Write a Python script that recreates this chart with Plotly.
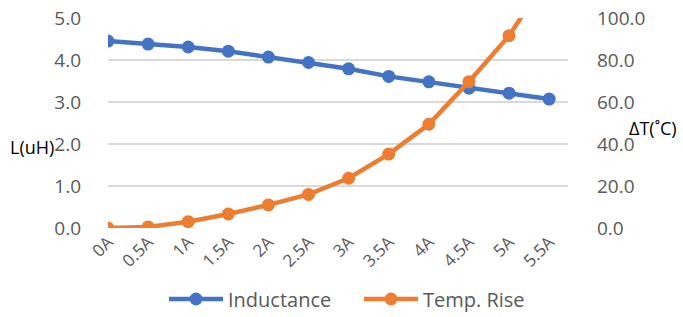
import plotly.graph_objects as go

currents = ["0A", "0.5A", "1A", "1.5A", "2A", "2.5A", "3A", "3.5A", "4A", "4.5A", "5A", "5.5A"]
inductance = [4.45, 4.38, 4.31, 4.21, 4.07, 3.94, 3.79, 3.61, 3.48, 3.33, 3.21, 3.07]
temp_rise = [0.0, 0.5, 3.0, 6.7, 11.0, 16.0, 23.7, 35.2, 49.4, 69.7, 91.6, 120.5]
left_ticks = [0, 1, 2, 3, 4, 5]
right_ticks = [0, 20, 40, 60, 80, 100]

xs = list(range(len(currents)))
FONT = "Open Sans"
GRAY = "#595959"
OFF = 0  # body margin removed via post_script
W, H = 683 - OFF, 317 - OFF
L, T = 108 - OFF, 18 - OFF
PW, PH = 460, 210
R, B = W - L - PW, H - T - PH

fig = go.Figure()
fig.add_trace(go.Scatter(x=xs, y=inductance, name="Inductance", mode="lines+markers",
                         line=dict(color="#4472C4", width=4.5),
                         marker=dict(size=13, color="#4472C4")))
fig.add_trace(go.Scatter(x=xs, y=temp_rise, name="Temp. Rise", mode="lines+markers", yaxis="y2",
                         line=dict(color="#ED7D31", width=4.5),
                         marker=dict(size=13, color="#ED7D31")))

def px_to_paper(px, py):
    # px, py are page pixel coordinates
    return (px - OFF - L) / PW, (T + PH - (py - OFF)) / PH

ax, ay = px_to_paper(32, 147)
bx, by = px_to_paper(627, 128)

fig.update_layout(
    width=W, height=H,
    margin=dict(l=L, r=R, t=T, b=B, autoexpand=False),
    plot_bgcolor="white", paper_bgcolor="white",
    font=dict(family=FONT, color=GRAY),
    showlegend=True,
    legend=dict(orientation="h", xref="container", yref="container",
                x=(164 - OFF) / W, xanchor="left", y=1 - (299 - OFF) / H, yanchor="middle",
                font=dict(size=20, color=GRAY), itemwidth=54, tracegroupgap=0,
                entrywidth=126, entrywidthmode="pixels"),
    xaxis=dict(range=[0, 11.47], tickvals=xs, ticktext=currents, tickangle=-45,
               showgrid=False, zeroline=False, showline=False, ticks="", automargin=False,
               tickfont=dict(size=17, color=GRAY)),
    yaxis=dict(range=[0, 5], tickvals=left_ticks, ticktext=[f"{v:.1f}" for v in left_ticks],
               showgrid=True, gridcolor="#d9d9d9", gridwidth=1.5, zeroline=False, automargin=False,
               showline=False, ticks="", tickfont=dict(size=19, color=GRAY), ticklabelstandoff=26,
               ticklabeloverflow="allow"),
    yaxis2=dict(range=[0, 100], overlaying="y", side="right", tickvals=right_ticks, automargin=False,
                ticktext=[f"{v:.1f}" for v in right_ticks], showgrid=False, zeroline=False,
                showline=False, ticks="", tickfont=dict(size=19, color=GRAY), ticklabelstandoff=28,
                ticklabeloverflow="allow"),
    annotations=[
        dict(text="L(uH)", x=ax, y=ay, xref="paper", yref="paper", showarrow=False,
             xanchor="center", yanchor="middle", font=dict(size=18, color="black")),
        dict(text="ΔT(˚C)", x=bx, y=by, xref="paper", yref="paper", showarrow=False,
             xanchor="left", yanchor="middle", font=dict(size=18, color="black")),
    ],
)

fig.write_html("out.html", config={"displayModeBar": False},
               post_script="document.body.style.margin='0';")
